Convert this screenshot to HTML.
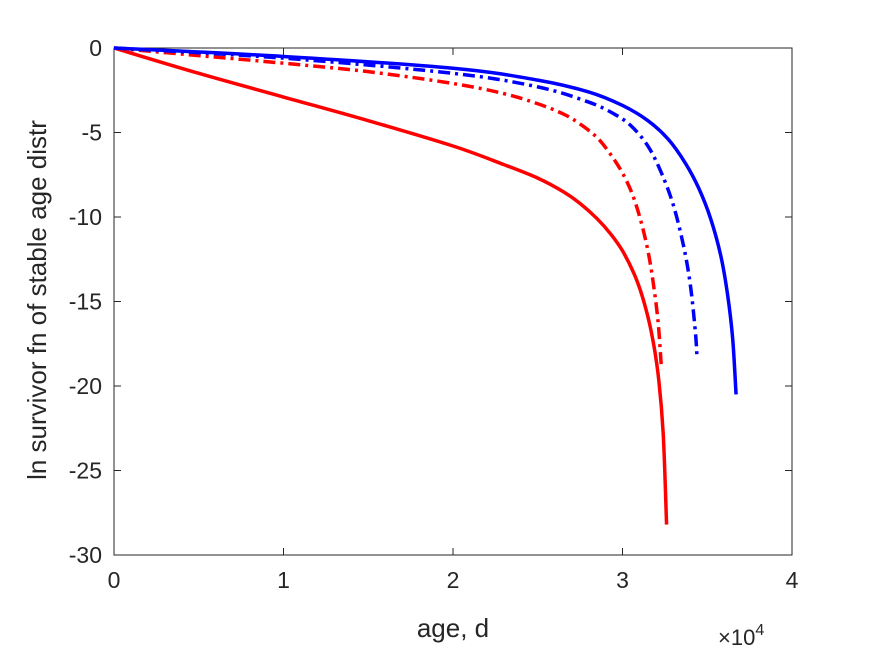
<!DOCTYPE html>
<html><head><meta charset="utf-8"><style>
body{margin:0;background:#fff;font-family:"Liberation Sans",sans-serif}
svg text{font-family:"Liberation Sans",sans-serif;fill:#262626}
</style></head><body>
<svg width="875" height="656" viewBox="0 0 875 656">
<rect x="0" y="0" width="875" height="656" fill="#fff"/>
<g id="axes"></g>
<g id="series"></g>
<text x="453" y="637" font-size="26" text-anchor="middle">age, d</text>
<text transform="translate(46,300) rotate(-90)" font-size="26" text-anchor="middle">ln survivor fn of stable age distr</text>
<text x="718" y="645" font-size="22">×10<tspan font-size="16" dy="-10">4</tspan></text>
</svg>
<script>
const xTicks=[0,1,2,3,4];
const yTicks=[0,-5,-10,-15,-20,-25,-30];
const redSolidX=[0,5000,10000,15000,20000,23000,25000,26500,27500,28500,29300,30000,30700,31200,31700,32100,32400,32600];
const redSolidY=[0,-1.5,-2.9,-4.3,-5.8,-6.9,-7.7,-8.5,-9.2,-10.1,-11.0,-12.0,-13.4,-14.8,-16.8,-19.3,-22.8,-28.2];
const redDashX=[0,5000,10000,15000,20000,23000,25000,26500,27500,28500,29300,30000,30600,31100,31500,31800,32100,32300];
const redDashY=[0,-0.45,-0.9,-1.4,-2.1,-2.7,-3.3,-3.9,-4.5,-5.3,-6.3,-7.4,-8.7,-10.3,-12.0,-13.8,-16.2,-19];
const blueDashX=[0,10000,20000,25000,28000,29500,30500,31500,32300,33000,33600,34000,34300,34400];
const blueDashY=[0,-0.6,-1.5,-2.3,-3.2,-3.9,-4.6,-5.8,-7.4,-9.3,-11.7,-14.0,-16.8,-18.4];
const blueSolidX=[0,10000,20000,25000,28000,30000,31500,32700,33700,34500,35200,35800,36200,36500,36700];
const blueSolidY=[0,-0.5,-1.2,-1.9,-2.6,-3.4,-4.3,-5.4,-6.8,-8.3,-10.1,-12.3,-14.6,-17.2,-20.5];
const L=114,R=792,T=48,B=555;
const sx=v=>L+(v/40000)*(R-L);
const sy=v=>T+(0-v)/30*(B-T);
const NS="http://www.w3.org/2000/svg";
const ax=document.getElementById('axes');
function mk(tag,attrs,parent){const e=document.createElementNS(NS,tag);for(const k in attrs)e.setAttribute(k,attrs[k]);parent.appendChild(e);return e;}
const box=mk('rect',{x:L,y:T,width:R-L,height:B-T,fill:'none',stroke:'#262626','stroke-width':1},ax);


xTicks.forEach(t=>{const x=sx(t*10000);
mk('line',{x1:x,x2:x,y1:B,y2:B-7,stroke:'#262626'},ax);
mk('line',{x1:x,x2:x,y1:T,y2:T+7,stroke:'#262626'},ax);
const tx=mk('text',{x:x,y:B+33,'font-size':23,'text-anchor':'middle'},ax);tx.textContent=t;

});
yTicks.forEach(t=>{const y=sy(t);
mk('line',{x1:L,x2:L+7,y1:y,y2:y,stroke:'#262626'},ax);
mk('line',{x1:R,x2:R-7,y1:y,y2:y,stroke:'#262626'},ax);
const tx=mk('text',{x:L-12,y:y+8,'font-size':23,'text-anchor':'end'},ax);tx.textContent=t;

});
const sg=document.getElementById('series');
function line(xs,ys,color,dash,name){
const P=xs.map((x,i)=>[sx(x),sy(ys[i])]);
let d='M'+P[0][0]+','+P[0][1];
for(let i=0;i<P.length-1;i++){
const p0=P[Math.max(0,i-1)],p1=P[i],p2=P[i+1],p3=P[Math.min(P.length-1,i+2)];
const c1=[p1[0]+(p2[0]-p0[0])/6,p1[1]+(p2[1]-p0[1])/6];
const c2=[p2[0]-(p3[0]-p1[0])/6,p2[1]-(p3[1]-p1[1])/6];
d+=' C'+c1[0]+','+c1[1]+' '+c2[0]+','+c2[1]+' '+p2[0]+','+p2[1];}
const p=mk('path',{d:d,fill:'none',stroke:color,'stroke-width':3.5,'stroke-linejoin':'round'},sg);
if(dash)p.setAttribute('stroke-dasharray',dash);

}
line(redSolidX,redSolidY,'#ff0000',null,'red-solid-line');
line(redDashX,redDashY,'#ff0000','12,5,3,5','red-dashdot-line');
line(blueDashX,blueDashY,'#0000ff','12,5,3,5','blue-dashdot-line');
line(blueSolidX,blueSolidY,'#0000ff',null,'blue-solid-line');
</script>
</body></html>
